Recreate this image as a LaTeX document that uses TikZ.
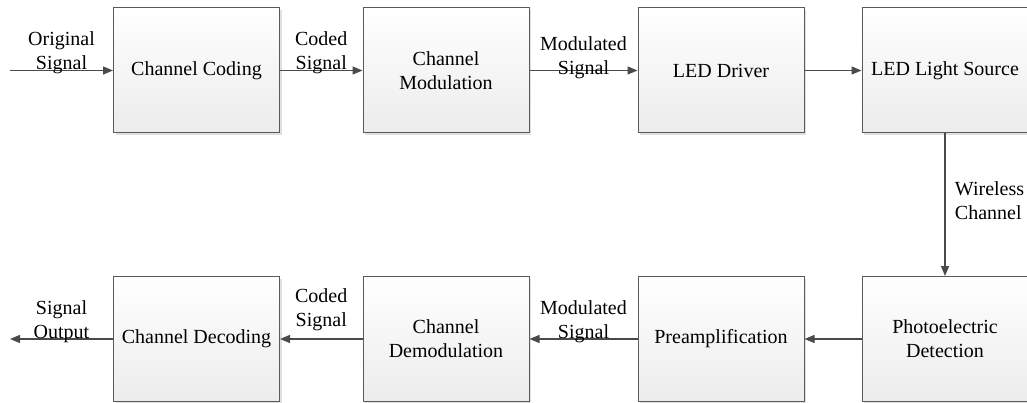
\documentclass[tikz,border=0pt]{standalone}
\usepackage{fontspec}
\setmainfont{Liberation Serif}
\usetikzlibrary{arrows.meta,shadows}
\definecolor{edgegray}{HTML}{5A5A5A}
\definecolor{wiregray}{HTML}{4A4A4A}
\definecolor{shadegray}{HTML}{ECECEC}

\begin{document}
\begin{tikzpicture}[
    x=1pt, y=1pt,
    every node/.style={font=\fontsize{20}{24}\selectfont},
    block/.style={draw=edgegray, line width=1pt, top color=white,
                  bottom color=shadegray, align=center,
                  minimum width=166pt, minimum height=125pt,
                  drop shadow={shadow xshift=2pt, shadow yshift=-2pt,
                               fill=black!20, opacity=0.6}},
    sig/.style={draw=wiregray, line width=1.3pt,
                -{Triangle[length=10pt, width=8pt]}},
    lbl/.style={align=center, inner sep=0pt, anchor=south, yshift=-4pt},
]

\useasboundingbox (0,0) rectangle (1027,402);

% ── Transmitter row ─────────────────────────────────────────────
\node[block] (ccode)  at (196.5,331.5) {Channel Coding};
\node[block] (cmod)   at (446,331.5)   {Channel\\Modulation};
\node[block] (driver) at (721,331.5)   {LED Driver};
\node[block] (source) at (945,331.5)   {LED Light Source};

% ── Receiver row ────────────────────────────────────────────────
\node[block] (detect)  at (945,63)   {Photoelectric\\Detection};
\node[block] (preamp)  at (721,63)   {Preamplification};
\node[block] (cdemod)  at (446,63)   {Channel\\Demodulation};
\node[block] (cdecode) at (196.5,63) {Channel Decoding};

% ── Free ends ───────────────────────────────────────────────────
\coordinate (src) at (10,331.5);
\coordinate (dst) at (10,63);

% ── Forward path ────────────────────────────────────────────────
\draw[sig] (src) -- node[lbl] (lorig) {Original\\Signal} (ccode);
\draw[sig] (ccode) -- node[lbl] (lcoded) {Coded\\Signal} (cmod);
\draw[sig] (cmod) -- node[lbl, yshift=-5pt] (lmod) {Modulated\\Signal} (driver);
\draw[sig] (driver) -- (source);

% ── Optical link ────────────────────────────────────────────────
\draw[sig] (source) -- node[align=left, anchor=west, xshift=6pt, yshift=4.5pt]
  (lwire) {Wireless\\Channel} (detect);

% ── Return path ─────────────────────────────────────────────────
\draw[sig] (detect) -- (preamp);
\draw[sig] (preamp) -- node[lbl] (lmodr) {Modulated\\Signal} (cdemod);
\draw[sig] (cdemod) -- node[lbl, yshift=12pt] (lcodedr) {Coded\\Signal} (cdecode);
\draw[sig] (cdecode) -- node[lbl] (lout) {Signal\\Output} (dst);

\end{tikzpicture}
\end{document}
